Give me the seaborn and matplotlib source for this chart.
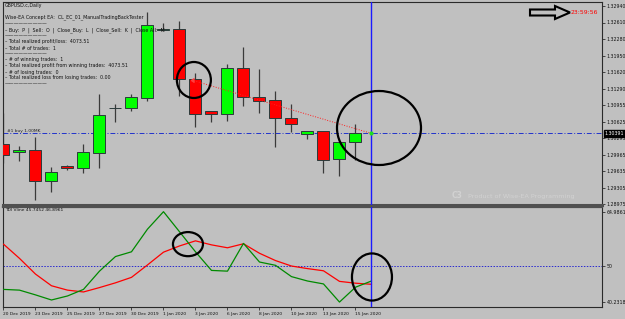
import numpy as np
import pandas as pd
import matplotlib
matplotlib.use("Agg")
import matplotlib.pyplot as plt
import seaborn as sns
from matplotlib.patches import Ellipse, Polygon
from matplotlib import font_manager

# ---------------- data ----------------
dates = ["20 Dec 2019", "22 Dec 2019", "23 Dec 2019", "24 Dec 2019", "25 Dec 2019",
         "26 Dec 2019", "27 Dec 2019", "29 Dec 2019", "30 Dec 2019", "31 Dec 2019",
         "1 Jan 2020", "2 Jan 2020", "3 Jan 2020", "5 Jan 2020", "6 Jan 2020",
         "7 Jan 2020", "8 Jan 2020", "9 Jan 2020", "10 Jan 2020", "12 Jan 2020",
         "13 Jan 2020", "14 Jan 2020", "15 Jan 2020"]
opens = [1.3018, 1.3002, 1.3006, 1.2944, 1.2974, 1.2970, 1.3000, 1.3091, 1.3090, 1.3110,
         1.3246, 1.3248, 1.3148, 1.3084, 1.3078, 1.3170, 1.3112, 1.3106, 1.3070, 1.3038,
         1.3044, 1.2988, 1.3022]
highs = [1.3080, 1.3014, 1.3032, 1.2972, 1.2976, 1.3018, 1.3118, 1.3098, 1.3118, 1.3282,
         1.3260, 1.3264, 1.3160, 1.3084, 1.3178, 1.3212, 1.3168, 1.3124, 1.3098, 1.3044,
         1.3044, 1.3022, 1.3058]
lows = [1.2980, 1.2984, 1.2906, 1.2922, 1.2966, 1.2960, 1.2970, 1.3062, 1.3084, 1.3104,
        1.3245, 1.3114, 1.3052, 1.3062, 1.3064, 1.3094, 1.3080, 1.3012, 1.3042, 1.3028,
        1.2960, 1.2954, 1.2986]
closes = [1.2996, 1.3006, 1.2944, 1.2962, 1.2970, 1.3002, 1.3076, 1.3091, 1.3112, 1.3256,
          1.3248, 1.3148, 1.3078, 1.3078, 1.3170, 1.3112, 1.3104, 1.3070, 1.3058, 1.3044,
          1.2986, 1.3022, 1.3040]

tdi_green = [43.7, 43.5, 42.2, 40.8, 41.9, 43.7, 48.7, 52.7, 54.0, 60.2, 64.9861, 59.5,
             54.0, 48.9, 48.7, 56.3, 51.2, 50.3, 47.2, 46.0, 45.2, 40.2318, 44.3, 46.0]
tdi_red = [56.1, 52.2, 47.9, 44.7, 43.5, 43.0, 44.2, 45.5, 47.0, 50.4, 53.9, 55.6,
           57.0, 55.9, 55.1, 56.2, 53.6, 51.6, 50.1, 49.4, 48.8, 45.9, 45.4, 45.1]

price_ticks = [1.32940, 1.32610, 1.32280, 1.31950, 1.31620, 1.31290, 1.30955,
               1.30625, 1.30295, 1.29965, 1.29635, 1.29305, 1.28975]
price_tick_labels = ["1.32940", "1.32610", "1.32280", "1.31950", "1.31620", "1.31290",
                     "1.30955", "1.30625", "1.30295", "1.29965", "1.29635", "1.29305",
                     "1.28975"]
date_tick_labels = ["20 Dec 2019", "23 Dec 2019", "25 Dec 2019", "27 Dec 2019",
                    "30 Dec 2019", "1 Jan 2020", "3 Jan 2020", "6 Jan 2020",
                    "8 Jan 2020", "10 Jan 2020", "13 Jan 2020", "15 Jan 2020"]
tdi_ticks = [64.9861, 50, 40.2318]
tdi_tick_labels = ["64.9861", "50", "40.2318"]

buy_price = 1.30391
trade_open_price = 1.3146
sep = "—————————"
info_lines = [
    "GBPUSD.c,Daily",
    "Wise-EA Concept EA:  CL_EC_01_ManualTradingBackTester",
    sep,
    "– Buy:  P  |  Sell:  O  |  Close_Buy:  L  |  Close_Sell:  K  |  Close All:  M",
    sep,
    "– Total realized profit/loss:  4073.51",
    "– Total # of trades:  1",
    sep,
    "– # of winning trades:  1",
    "– Total realized profit from winning trades:  4073.51",
    "– # of losing trades:  0",
    "– Total realized loss from losing trades:  0.00",
    sep,
]
info_y = [5.5, 17, 24, 30, 36, 42, 48, 54, 60, 66, 72, 78, 84]

# ---------------- style ----------------
sns.set_theme(style="white")
names = {f.name for f in font_manager.fontManager.ttflist}
narrow = "Liberation Sans Narrow" if "Liberation Sans Narrow" in names else "DejaVu Sans"
plt.rcParams["font.family"] = [narrow, "DejaVu Sans"]

BG = "#c0c0c0"
W, H = 625, 319
fig = plt.figure(figsize=(W / 100, H / 100), dpi=100, facecolor=BG)

def fx(x):
    return x / W

def fy(y):
    return 1 - y / H

ax = fig.add_axes([fx(3), fy(204.5), 599 / W, 202.5 / H], facecolor=BG)
ax2 = fig.add_axes([fx(3), fy(307), 599 / W, 100 / H], facecolor=BG)

n = len(dates)
idx = np.arange(n)
o = np.array(opens); c = np.array(closes); h = np.array(highs); l = np.array(lows)
xmin = -0.03
xmax = xmin + 599 / 16

# candles
ax.vlines(idx, l, h, color="#3a3a3a", lw=0.9, zorder=2)
cols = ["#00ff00" if cc >= oo else "#ff0000" for oo, cc in zip(o, c)]
ax.bar(idx, np.abs(c - o), bottom=np.minimum(o, c), width=0.75, color=cols,
       edgecolor="#2a3a3a", linewidth=0.7, zorder=3)

ax.set_xlim(xmin, xmax)
ax.set_ylim(1.28970, 1.33020)
ax.set_xticks([])
ax.yaxis.tick_right()
ax.set_yticks(price_ticks)
ax.set_yticklabels(price_tick_labels)
ax.tick_params(axis="y", which="both", right=True, length=2, width=0.5, pad=1.5,
               labelsize=3.4, colors="#111111")

# buy line and trade line
ax.axhline(buy_price, color="#2233cc", lw=0.7, ls=(0, (5, 2, 1, 2)), zorder=2)
ax.plot([11.75, 23], [trade_open_price, buy_price], color="#ff2020", lw=0.7,
        ls=(0, (1, 1.6)), zorder=4)
ax.plot([11.75], [trade_open_price], marker=4, color="#ff4040", ms=2.5, zorder=5)
ax.plot([23], [buy_price], marker="o", color="#20e020", ms=2, zorder=5)
ax.axvline(23, color="#1a1aff", lw=1.0, zorder=4)

# current price box
ax.text(1.004, buy_price, "1.30391", transform=ax.get_yaxis_transform(),
        fontsize=3.4, color="white", va="center", ha="left",
        bbox=dict(boxstyle="square,pad=0.15", fc="black", ec="black"), zorder=10,
        clip_on=False)

# annotation ellipses
ax.add_patch(Ellipse((11.9, 1.3146), 2.125, 0.0072, fill=False, ec="black", lw=1.6, zorder=6))
ax.add_patch(Ellipse((23.47, 1.3050), 5.25, 0.0148, fill=False, ec="black", lw=1.6, zorder=6))

# lower panel (TDI)
df = pd.DataFrame({"bar": np.arange(len(tdi_green)), "green": tdi_green, "red": tdi_red})
sns.lineplot(data=df, x="bar", y="red", color="#ff0000", lw=0.9, ax=ax2, zorder=3)
sns.lineplot(data=df, x="bar", y="green", color="#008a00", lw=0.9, ax=ax2, zorder=3)
ax2.axhline(50, color="#2a2ad0", lw=0.7, ls=(0, (1.5, 1.5)), zorder=2)
ax2.axvline(23, color="#1a1aff", lw=1.0, zorder=4)
ax2.set_xlim(xmin, xmax)
ax2.set_ylim(38.88, 66.27)
ax2.set_xlabel(""); ax2.set_ylabel("")
ax2.yaxis.tick_right()
ax2.set_yticks(tdi_ticks)
ax2.set_yticklabels(tdi_tick_labels)
ax2.tick_params(axis="y", right=True, length=2, width=0.5, pad=1.5, labelsize=3.4,
                colors="#111111")
ax2.set_xticks(np.arange(0, n, 2))
ax2.set_xticklabels(date_tick_labels, ha="left")
ax2.tick_params(axis="x", bottom=True, length=2.5, width=0.5, pad=1.2, labelsize=3.2,
                colors="#111111")
ax2.add_patch(Ellipse((11.53, 56.1), 1.875, 6.6, fill=False, ec="black", lw=1.6, zorder=6))
ax2.add_patch(Ellipse((23.03, 47.1), 2.5, 12.9, fill=False, ec="black", lw=1.6, zorder=6))
ax2.text(0.12, 65.5, "TDI Vline 45.7452 46.8961", fontsize=3.2, color="#111111",
         va="center", ha="left")

for a in (ax, ax2):
    for s in a.spines.values():
        s.set_color("#2a2a2a")
        s.set_linewidth(0.8)
ax.spines["bottom"].set_linewidth(2.2)
ax.spines["bottom"].set_color("#505050")
ax2.spines["top"].set_linewidth(1.6)
ax2.spines["top"].set_color("#505050")

# info text
for txt, yy in zip(info_lines, info_y):
    fig.text(fx(5), fy(yy), txt, fontsize=3.4, color="#111111", va="center", ha="left",
             zorder=20)
fig.text(fx(7), fy(130.5), "#1 buy 1.00MK", fontsize=3.2, color="#222222",
         va="center", ha="left")

# watermark
fig.text(fx(452), fy(196), "C3", fontsize=5.5, color="#d2d2d2", va="center", ha="left",
         fontweight="bold")
fig.text(fx(468), fy(196.5), "Product of Wise-EA Programming", fontsize=4.6,
         color="#d2d2d2", va="center", ha="left")

# arrow and clock
pts = [(530, 9.5), (555, 9.5), (555, 6), (570, 12.5), (555, 19), (555, 15.5), (530, 15.5)]
fig.patches.append(Polygon([(fx(x), fy(y)) for x, y in pts], closed=True,
                           transform=fig.transFigure, fc=BG, ec="black", lw=1.5))
fig.text(fx(571), fy(13), "23:59:56", fontsize=4.4, color="#ff0000", va="center",
         ha="left")

fig.savefig("out.png", dpi=100, facecolor=BG)
